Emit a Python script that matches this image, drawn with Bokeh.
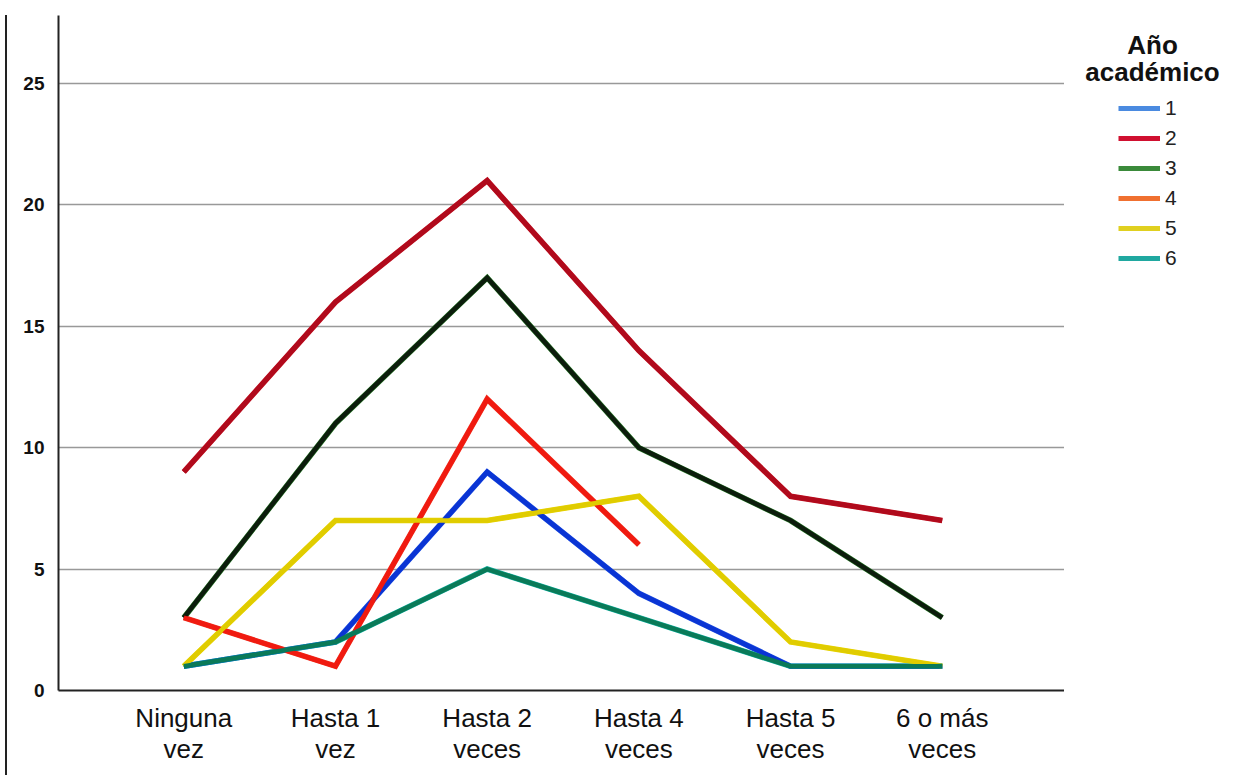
from bokeh.plotting import figure
from bokeh.models import Range1d, Legend, LegendItem, FixedTicker, Label, Div
from bokeh.layouts import row
from bokeh.embed import file_html
from bokeh.resources import INLINE

categories = ["Ninguna\nvez", "Hasta 1\nvez", "Hasta 2\nveces", "Hasta 4\nveces", "Hasta 5\nveces", "6 o más\nveces"]
year1 = [1, 2, 9, 4, 1, 1]
year2 = [9, 16, 21, 14, 8, 7]
year3 = [3, 11, 17, 10, 7, 3]
year4 = [3, 1, 12, 6, None, None]
year5 = [1, 7, 7, 8, 2, 1]
year6 = [1, 2, 5, 3, 1, 1]
series_names = ["1", "2", "3", "4", "5", "6"]
legend_title = ["Año", "académico"]
y_ticks = [0, 5, 10, 15, 20, 25]

line_colors = ["#0a34d4", "#b00a1c", "#0c1d0c", "#f01a10", "#e0cc00", "#0a7a58"]
under_colors = ["#2050e0", "#c01020", "#2a7a2a", "#f03020", "#e8d400", "#10b0a0"]
legend_colors = ["#4a8ae0", "#d01030", "#3a8a3a", "#f07030", "#e0d020", "#20a8a0"]

H = 775
BOTTOM = 85
TOP = 15
p = figure(width=1050, height=H, output_backend="svg", toolbar_location=None,
           x_range=Range1d(-0.826, 5.806), y_range=Range1d(0, 27.8),
           min_border_left=44, min_border_right=0, min_border_top=TOP, min_border_bottom=BOTTOM)
p.outline_line_color = None
p.background_fill_color = "white"

xs = list(range(len(categories)))
all_series = [year1, year2, year3, year4, year5, year6]
data = []
for vals in all_series:
    px = [x for x, v in zip(xs, vals) if v is not None]
    py = [v for v in vals if v is not None]
    data.append((px, py))

for (px, py), c in zip(data, under_colors):
    p.line(px, py, line_color=c, line_width=5.6, line_join="miter")
for (px, py), c in zip(data, line_colors):
    p.line(px, py, line_color=c, line_width=4.6, line_join="miter")

p.xaxis.ticker = FixedTicker(ticks=xs)
p.xaxis.major_label_overrides = {i: c for i, c in enumerate(categories)}
p.xaxis.major_label_text_font = "Liberation Sans"
p.xaxis.major_label_text_font_size = "26px"
p.xaxis.major_label_text_color = "#111111"
p.xaxis.major_label_standoff = 6
p.xaxis.major_label_text_line_height = 1.05
p.xaxis.major_tick_line_color = None
p.xaxis.minor_tick_line_color = None
p.xaxis.axis_line_color = "#222222"
p.xaxis.axis_line_width = 2

p.yaxis.ticker = FixedTicker(ticks=y_ticks)
p.yaxis.major_label_text_font = "Liberation Sans"
p.yaxis.major_label_text_font_style = "bold"
p.yaxis.major_label_text_font_size = "19px"
p.yaxis.major_label_text_color = "#111111"
p.yaxis.major_label_standoff = 8
p.yaxis.major_tick_line_color = None
p.yaxis.minor_tick_line_color = None
p.yaxis.axis_line_color = "#222222"
p.yaxis.axis_line_width = 2

p.xgrid.grid_line_color = None
p.ygrid.ticker = FixedTicker(ticks=y_ticks[1:])
p.ygrid.grid_line_color = "#999999"
p.ygrid.grid_line_width = 1.5

# legend panel (its frame is aligned with the main plot's frame in the row)
p2 = figure(width=179, height=H, output_backend="svg", toolbar_location=None,
            x_range=Range1d(-20, -19), y_range=Range1d(-20, -19),
            min_border_left=0, min_border_right=0, min_border_top=TOP, min_border_bottom=BOTTOM)
p2.outline_line_color = None
p2.axis.visible = False
p2.grid.grid_line_color = None
items = []
for name, (px, py), c in zip(series_names, data, legend_colors):
    r = p2.line(px, py, line_color=c, line_width=5)
    items.append(LegendItem(label=name, renderers=[r]))
fb = H - BOTTOM  # frame bottom in figure pixels
legend = Legend(items=items, location=(54, fb - 270),
                label_text_font="Liberation Sans", label_text_font_size="21px",
                label_text_color="#222222", glyph_width=42, glyph_height=24,
                spacing=6, label_standoff=5, border_line_color=None,
                background_fill_alpha=0, padding=0, margin=0)
p2.add_layout(legend, "center")
for i, t in enumerate(legend_title):
    p2.add_layout(Label(x=88, y=fb - 44 - 27 * i, x_units="screen", y_units="screen", text=t,
                        text_align="center", text_baseline="middle",
                        text_font="Liberation Sans", text_font_size="26px",
                        text_font_style="bold", text_color="#111111"))

edge = Div(width=4, height=H - TOP, styles={"border-left": "2px solid #222222", "margin-top": "%dpx" % TOP})

open("out.html", "w").write(file_html(row(edge, p, p2), INLINE))
